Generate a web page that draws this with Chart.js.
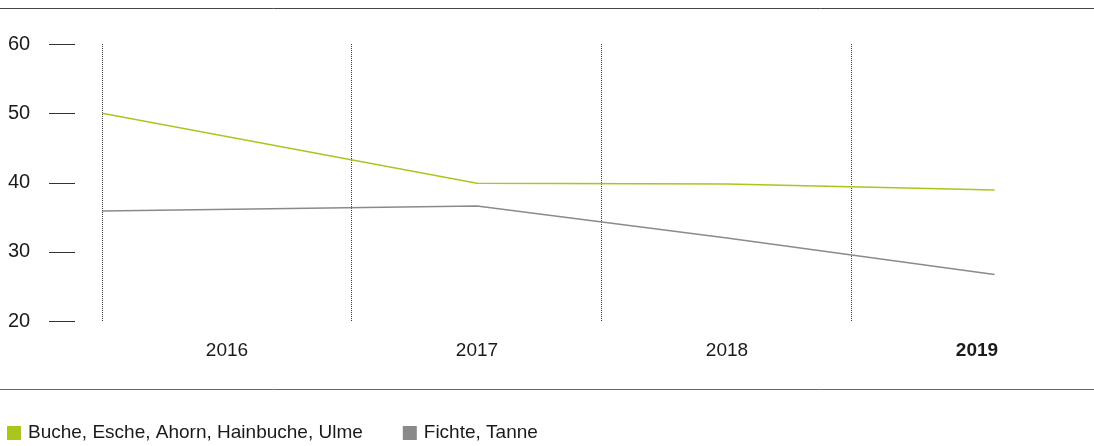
<!DOCTYPE html>
<html>
<head>
<meta charset="utf-8">
<script src="https://cdn.jsdelivr.net/npm/chart.js@4/dist/chart.umd.min.js"></script>
<style>
  html, body { margin: 0; padding: 0; background: #fff; }
  #wrap { width: 1094px; height: 446px; position: relative; }
</style>
</head>
<body>
<div id="wrap"><canvas id="chart"></canvas></div>
<script>
// Werte
const years = [2016, 2017, 2018, 2019];
const dividers = [2015.5, 2016.5, 2017.5, 2018.5];
const pointYears = [2015.5, 2017, 2018, 2019.07];
const laubholz = [50.0, 39.9, 39.8, 38.9];
const nadelholz = [35.9, 36.6, 32.0, 26.7];
const yTicks = [20, 30, 40, 50, 60];
const seriesNames = ['Buche, Esche, Ahorn, Hainbuche, Ulme', 'Fichte, Tanne'];

const GREEN = '#a9c61c';
const GREY = '#8a8a8a';
const TEXT = '#1a1a1a';
const FONT = '"Liberation Sans", Arial, sans-serif';

Chart.defaults.font.family = FONT;
Chart.defaults.color = TEXT;

// Trennlinien, kurze Striche an der y-Achse und Legende unten
const decor = {
  id: 'decor',
  afterDraw(chart) {
    const ctx = chart.ctx;
    const w = chart.width;
    ctx.save();
    ctx.lineWidth = 1;
    ctx.strokeStyle = '#444';
    ctx.beginPath();
    ctx.moveTo(0, 8.5); ctx.lineTo(w, 8.5);
    ctx.stroke();
    ctx.strokeStyle = '#666';
    ctx.beginPath();
    ctx.moveTo(0, 389.5); ctx.lineTo(w, 389.5);
    ctx.stroke();

    const y = chart.scales.y;
    const left = chart.chartArea.left;
    ctx.strokeStyle = '#333';
    y.ticks.forEach(t => {
      const py = Math.round(y.getPixelForValue(t.value)) + 0.5;
      ctx.beginPath();
      ctx.moveTo(left - 53, py); ctx.lineTo(left - 27, py);
      ctx.stroke();
    });

    // Legende
    ctx.font = '19px ' + FONT;
    ctx.textBaseline = 'middle';
    ctx.textAlign = 'left';
    let x = 7;
    const cy = 433;
    chart.data.datasets.forEach(ds => {
      ctx.fillStyle = ds.borderColor;
      ctx.fillRect(x, cy - 7, 14, 14);
      ctx.fillStyle = TEXT;
      ctx.fillText(ds.label, x + 21, cy);
      x += 21 + ctx.measureText(ds.label).width + 40;
    });
    ctx.restore();
  }
};

const isYear = v => Math.abs(v - Math.round(v)) < 1e-6;

new Chart(document.getElementById('chart'), {
  type: 'line',
  data: {
    datasets: [
      {
        label: seriesNames[0],
        data: pointYears.map((x, i) => ({x: x, y: laubholz[i]})),
        borderColor: GREEN,
        backgroundColor: GREEN,
        borderWidth: 1.5,
        pointRadius: 0,
        tension: 0
      },
      {
        label: seriesNames[1],
        data: pointYears.map((x, i) => ({x: x, y: nadelholz[i]})),
        borderColor: GREY,
        backgroundColor: GREY,
        borderWidth: 1.5,
        pointRadius: 0,
        tension: 0
      }
    ]
  },
  options: {
    responsive: true,
    maintainAspectRatio: false,
    animation: false,
    layout: { padding: { top: 44, right: 0, bottom: 0, left: 8 } },
    plugins: {
      tooltip: { enabled: false },
      legend: { display: false }
    },
    scales: {
      x: {
        type: 'linear',
        min: 2015.5,
        max: 2019.468,
        afterBuildTicks(scale) {
          scale.ticks = dividers.concat(years).sort((a, b) => a - b).map(v => ({value: v}));
        },
        afterFit(scale) { scale.height = 125; },
        grid: {
          drawTicks: false,
          lineWidth: 1,
          color: c => (c.tick && !isYear(c.tick.value)) ? '#3a3a3a' : 'rgba(0,0,0,0)'
        },
        border: { display: false, dash: [1, 1] },
        ticks: {
          autoSkip: false,
          maxRotation: 0,
          padding: 18,
          color: TEXT,
          font: c => ({ size: 19, weight: (c.tick && c.tick.value === 2019) ? 'bold' : 'normal' }),
          callback: v => isYear(v) ? String(Math.round(v)) : ''
        }
      },
      y: {
        min: 20,
        max: 60,
        afterBuildTicks(scale) {
          scale.ticks = yTicks.map(v => ({value: v}));
        },
        afterFit(scale) { scale.width = 94; },
        grid: { display: false, drawTicks: false },
        border: { display: false },
        ticks: {
          crossAlign: 'far',
          padding: 0,
          color: TEXT,
          font: { size: 20 }
        }
      }
    }
  },
  plugins: [decor]
});
</script>
</body>
</html>
